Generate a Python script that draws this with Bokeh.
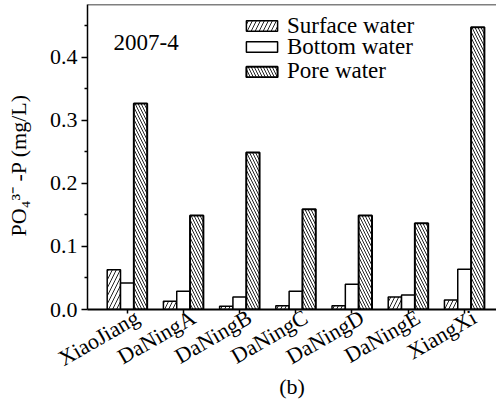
import math
from bokeh.plotting import figure
from bokeh.models import (ColumnDataSource, FixedTicker, Label, Span, Range1d,
                          NumeralTickFormatter, Legend, LegendItem)
from bokeh.transform import dodge
from bokeh.embed import file_html
from bokeh.resources import INLINE

# ---- data ----
sites = ["XiaoJiang", "DaNingA", "DaNingB", "DaNingC", "DaNingD", "DaNingE", "XiangXi"]
surface_water = [0.063, 0.013, 0.005, 0.006, 0.006, 0.020, 0.015]
bottom_water = [0.042, 0.029, 0.020, 0.029, 0.040, 0.023, 0.064]
pore_water = [0.327, 0.149, 0.249, 0.159, 0.149, 0.137, 0.448]
series_names = ["Surface water", "Bottom water", "Pore water"]
y_ticks = [0.0, 0.1, 0.2, 0.3, 0.4]
y_minor_ticks = [0.05, 0.15, 0.25, 0.35, 0.45]
date_tag = "2007-4"
panel_tag = "(b)"
y_title = "PO\u2084\u00b3\u207b -P (mg/L)"

FONT = "Liberation Serif"
pos = list(range(1, len(sites) + 1))
src = ColumnDataSource(dict(x=pos, s=surface_water, b=bottom_water, p=pore_water))

Y_END = 0.4841
p = figure(width=496, height=403, output_backend="svg", toolbar_location=None,
           x_range=Range1d(0.294, 7.571), y_range=Range1d(0, Y_END),
           min_border=0, min_border_left=87, min_border_right=0,
           min_border_top=4, min_border_bottom=94)
p.outline_line_color = None
p.grid.visible = False
p.background_fill_color = "white"
p.border_fill_color = "white"

w = 0.237
common = dict(width=w, source=src, fill_color="white", line_color="black",
              hatch_color="#222222", hatch_weight=1)
r_s = p.vbar(x=dodge("x", -w, range=p.x_range), top="s", line_width=1.5,
             hatch_pattern="/", hatch_scale=8, **common)
r_b = p.vbar(x=dodge("x", 0, range=p.x_range), top="b", line_width=1.5, **common)
r_p = p.vbar(x=dodge("x", w, range=p.x_range), top="p", line_width=2,
             hatch_pattern="\\", hatch_scale=6, **common)

# top border
p.add_layout(Span(location=Y_END, dimension="width", line_color="black", line_width=1.5))

# y axis
ya = p.yaxis[0]
ya.ticker = FixedTicker(ticks=y_ticks, minor_ticks=y_minor_ticks)
ya.formatter = NumeralTickFormatter(format="0.0")
ya.axis_line_width = 1.5
ya.major_tick_out = 6
ya.major_tick_in = 0
ya.minor_tick_out = 3
ya.minor_tick_in = 0
ya.major_tick_line_width = 1.5
ya.minor_tick_line_width = 1.5
ya.major_label_standoff = 4
ya.major_label_text_font = FONT
ya.major_label_text_font_size = "22px"
ya.major_label_text_color = "black"
ya.axis_label = y_title + "\u00a0" * 3
ya.axis_label_text_font = FONT
ya.axis_label_text_font_size = "22px"
ya.axis_label_text_font_style = "normal"
ya.axis_label_text_color = "black"
ya.axis_label_standoff = 16

# x axis: labels sit slightly right of the tick marks (ticks drawn as minor ticks)
LABEL_SHIFT = 0.178
label_pos = [x + LABEL_SHIFT for x in pos]
xa = p.xaxis[0]
xa.ticker = FixedTicker(ticks=label_pos, minor_ticks=pos)
xa.major_label_overrides = {lp: s for lp, s in zip(label_pos, sites)}
xa.major_label_orientation = math.pi / 6
xa.axis_line_width = 2
xa.major_tick_line_color = None
xa.major_tick_out = 4
xa.major_tick_in = 0
xa.minor_tick_out = 4
xa.minor_tick_in = 0
xa.minor_tick_line_width = 1.5
xa.minor_tick_line_color = "black"
xa.major_label_standoff = 2
xa.major_label_text_font = FONT
xa.major_label_text_font_size = "22px"
xa.major_label_text_color = "black"
xa.axis_label = panel_tag
xa.axis_label_text_font = FONT
xa.axis_label_text_font_size = "22px"
xa.axis_label_text_font_style = "normal"
xa.axis_label_text_color = "black"
xa.axis_label_standoff = -11

# legends: one per row so that row spacing matches
row_centers = [25.5, 46.7, 71.0]
for name, r, c in zip(series_names, [r_s, r_b, r_p], row_centers):
    lg = Legend(items=[LegendItem(label=name, renderers=[r])],
                location=(155, 309 - c - 13), padding=0, margin=0, spacing=0,
                glyph_height=13, glyph_width=39, label_standoff=6,
                label_text_font="serif", label_text_font_size="23px",
                label_text_color="black", background_fill_alpha=0,
                border_line_color=None)
    p.add_layout(lg)


def dx(px):
    return 1 + (px - 126.7) / 56.2


def dy(py):
    return (309 - py) / 630


p.add_layout(Label(x=dx(113), y=dy(41.7), text=date_tag, text_font="serif",
                   text_font_size="23px", text_color="black",
                   text_baseline="alphabetic"))

open("out.html", "w").write(file_html(p, INLINE))
